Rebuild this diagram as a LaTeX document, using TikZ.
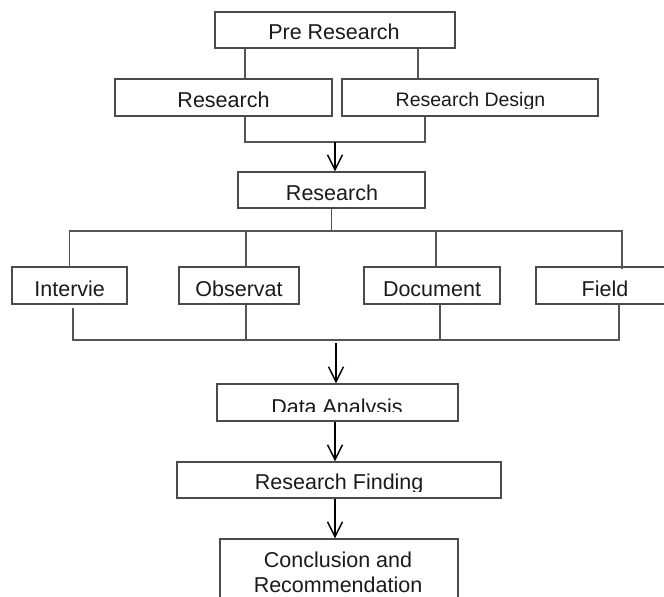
\documentclass[tikz,border=0pt]{standalone}
\usepackage{fontspec}
\setmainfont{Liberation Sans}
\usetikzlibrary{arrows.meta}
\definecolor{boxgray}{HTML}{4A4A4A}
\definecolor{linegray}{HTML}{555555}
\definecolor{txtcol}{HTML}{1A1A1A}
\begin{document}
\begin{tikzpicture}[x=1pt,y=-1pt,
  box/.style={draw=boxgray, line width=1.3pt, rectangle, inner sep=0pt},
  txt/.style={anchor=base, inner sep=0pt, text=txtcol, font=\fontsize{21.5}{24}\selectfont},
  txtsm/.style={txt, font=\fontsize{19.5}{22}\selectfont},
  conn/.style={draw=linegray, line width=1.2pt},
  arr/.style={draw=black, line width=1.4pt, -{Straight Barb[length=15pt,width=15pt]}}]
\useasboundingbox (0,0) rectangle (664,597);
\clip (0,0) rectangle (664,597);

% boxes
\node[box, minimum width=240pt, minimum height=36pt] (pre) at (335,30) {};
\node[box, minimum width=217pt, minimum height=37pt] (resL) at (223.5,97.5) {};
\node[box, minimum width=256pt, minimum height=37pt] (resD) at (470,97.5) {};
\node[box, minimum width=187pt, minimum height=36pt] (res) at (331.5,190) {};
\node[box, minimum width=115pt, minimum height=37pt] (intv) at (69.5,285.5) {};
\node[box, minimum width=120pt, minimum height=37pt] (obs) at (239,285.5) {};
\node[box, minimum width=136pt, minimum height=37pt] (doc) at (432,285.5) {};
\node[box, minimum width=138pt, minimum height=37pt] (fld) at (605,285.5) {};
\node[box, minimum width=241pt, minimum height=37pt] (da) at (337.5,402.5) {};
\node[box, minimum width=324pt, minimum height=36pt] (rf) at (339,480) {};
\node[box, minimum width=238pt, minimum height=72pt] (cr) at (339,575) {};

% texts
\node[txt] (preT) at (334,39.5) {Pre Research};
\node[txt] (resLT) at (223.5,107) {Research};
\begin{scope}
  \clip (345,80) rectangle (595,108.5);
  \node[txtsm] (resDT) at (470.5,106) {Research Design};
\end{scope}
\node[txt] (resT) at (332,200.7) {Research};
\node[txt] (intvT) at (69.7,296) {Intervie};
\node[txt] (obsT) at (239,296) {Observat};
\node[txt] (docT) at (432,296) {Document};
\node[txt] (fldT) at (605,296) {Field};
\begin{scope}
  \clip (220,386) rectangle (455,411.7);
  \node[txt] (daT) at (337,414.4) {Data Analysis};
\end{scope}
\begin{scope}
  \clip (180,464) rectangle (498,491);
  \node[txt] (rfT) at (339.2,489.5) {Research Finding};
\end{scope}
\node[txt] (crT1) at (338,567.3) {Conclusion and};
\node[txt] (crT2) at (338,592) {Recommendation};

% connectors, top
\draw[conn] ([xshift=-90pt]pre.south) -- ([xshift=21.5pt]resL.north);
\draw[conn] ([xshift=83pt]pre.south) -- ([xshift=-52pt]resD.north);
\coordinate (j1) at (335,142);
\draw[conn] ([xshift=21.5pt]resL.south) |- (j1) -| ([xshift=-45pt]resD.south);
\draw[arr] (j1) -- (j1 |- res.north);

% branches
\coordinate (j2) at (332,231);
\draw[conn] (res.south) -- (res.south |- j2);
\draw[conn] (intv.north) |- ([xshift=17pt]fld.north |- j2) -- ([xshift=17pt,yshift=-3pt]fld.north);
\draw[conn] ([xshift=7pt]obs.north) -- ([xshift=7pt]obs.north |- j2);
\draw[conn] ([xshift=4pt]doc.north) -- ([xshift=4pt]doc.north |- j2);

% merge
\coordinate (j3) at (336,340);
\draw[conn] ([xshift=3.5pt,yshift=-3pt]intv.south) |- ([xshift=14pt]fld.south |- j3) -- ([xshift=14pt]fld.south);
\draw[conn] ([xshift=7pt]obs.south) -- ([xshift=7pt]obs.south |- j3);
\draw[conn] ([xshift=8pt]doc.south) -- ([xshift=8pt]doc.south |- j3);
\draw[arr] ([yshift=-3pt]j3) -- (j3 |- da.north);

% lower chain
\draw[arr] ([xshift=-2.5pt]da.south) -- ([xshift=-4pt]rf.north);
\draw[arr] ([xshift=-4pt]rf.south) -- ([xshift=-4pt]cr.north);
\end{tikzpicture}
\end{document}
